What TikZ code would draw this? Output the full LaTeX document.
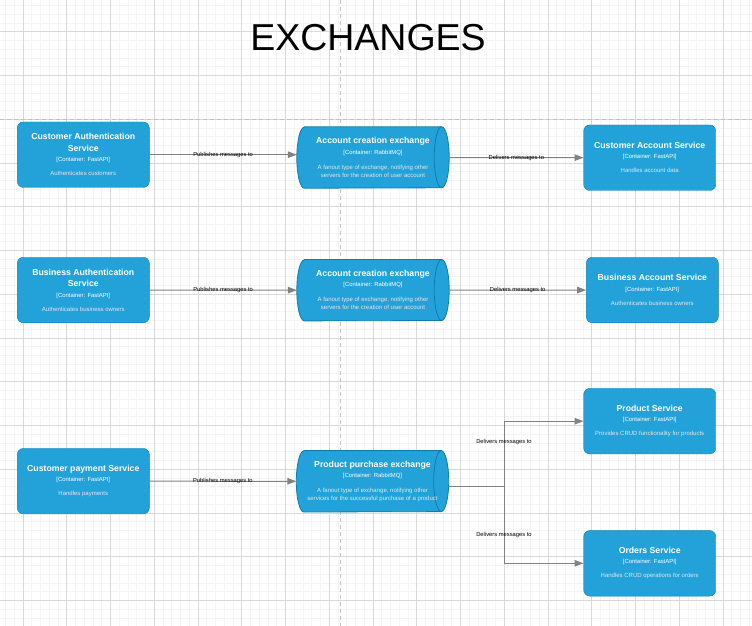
\documentclass[tikz,border=0pt]{standalone}
\usepackage{fontspec}
\setmainfont{Liberation Sans}
\usetikzlibrary{arrows.meta}

\definecolor{boxblue}{HTML}{23A2D9}
\definecolor{boxline}{HTML}{0E7DAD}
\definecolor{desctext}{HTML}{E6E6E6}
\definecolor{linkgray}{HTML}{828282}
\definecolor{majorgrid}{HTML}{D9D9D9}
\definecolor{minorgrid}{HTML}{F4F4F4}
\definecolor{pagebreak}{HTML}{C2C2C2}

\newcommand{\nametxt}[1]{{\fontsize{8.7}{11.7}\selectfont\bfseries #1}}
\newcommand{\tagtxt}[1]{{\fontsize{5.9}{7}\selectfont #1}}
\newcommand{\desctxt}[1]{{\fontsize{6}{7}\selectfont\color{desctext}#1}}

\pgfdeclarelayer{back}
\pgfsetlayers{back,main}

\tikzset{
    svcbox/.style={draw=boxline, fill=boxblue, rounded corners=6pt, text=white,
        align=center, minimum width=132pt, minimum height=65.5pt, inner sep=0pt,
        font=\fontsize{8.7}{11.7}\selectfont},
    xchgbox/.style={text=white, align=center, minimum width=152pt,
        minimum height=61pt, inner sep=0pt, font=\fontsize{8.7}{11.7}\selectfont},
    xchgbody/.style={draw=boxline, fill=boxblue, line width=0.8pt},
    link/.style={draw=linkgray, line width=1pt, -{Triangle[length=9pt, width=6.5pt]}},
    linklbl/.style={font=\fontsize{5.8}{7}\selectfont, text=black, inner sep=1pt},
}

\begin{document}
\begin{tikzpicture}[x=1pt, y=-1pt]
    \useasboundingbox (0, 0) rectangle (752, 626);
    \clip (0, 0) rectangle (752, 626);

    % grid
    \begin{pgfonlayer}{back}
        \fill[white] (0, 0) rectangle (752, 626);
        \foreach \i in {0,...,87}
            \draw[minorgrid, line width=0.6pt] ({-3.3+\i*8.75}, 0) -- ({-3.3+\i*8.75}, 626);
        \foreach \j in {0,...,72}
            \draw[minorgrid, line width=0.6pt] (0, {-3.3+\j*8.75}) -- (752, {-3.3+\j*8.75});
        \foreach \i in {0,...,17}
            \draw[majorgrid, line width=0.8pt] ({22.95+\i*43.75}, 0) -- ({22.95+\i*43.75}, 626);
        \foreach \j in {1,...,14}
            \draw[majorgrid, line width=0.8pt] (0, {-12.05+\j*43.75}) -- (752, {-12.05+\j*43.75});
        \draw[pagebreak, line width=0.8pt, dash pattern=on 4pt off 3pt] (340, 0) -- (340, 626);
        \draw[pagebreak, line width=0.8pt, dash pattern=on 4pt off 3pt] (0, 119.4) -- (752, 119.4);
    \end{pgfonlayer}

    \node[anchor=base, font=\fontsize{37.5}{45}\selectfont] (title) at (368, 50.7) {EXCHANGES};

    % services
    \node[svcbox] (custauth) at (83.3, 154.7) {\nametxt{Customer Authentication}\\ \nametxt{Service}\\[-1.4pt]
        \tagtxt{[Container: FastAPI]}\\[2.3pt] \desctxt{Authenticates customers}};
    \node[svcbox] (bizauth) at (83.3, 290) {\nametxt{Business Authentication}\\ \nametxt{Service}\\[-1.4pt]
        \tagtxt{[Container: FastAPI]}\\[2.3pt] \desctxt{Authenticates business owners}};
    \node[svcbox] (custpay) at (83.3, 481.2) {\nametxt{Customer payment Service}\\[-1.4pt]
        \tagtxt{[Container: FastAPI]}\\[2.3pt] \desctxt{Handles payments}};
    \node[svcbox] (custacct) at (649.7, 157.7) {\nametxt{Customer Account Service}\\[-1.4pt]
        \tagtxt{[Container: FastAPI]}\\[2.3pt] \desctxt{Handles account data}};
    \node[svcbox] (bizacct) at (652.3, 290) {\nametxt{Business Account Service}\\[-1.4pt]
        \tagtxt{[Container: FastAPI]}\\[2.3pt] \desctxt{Authenticates business owners}};
    \node[svcbox] (product) at (649.7, 421.2) {\nametxt{Product Service}\\[-1.4pt]
        \tagtxt{[Container: FastAPI]}\\[2.3pt] \desctxt{Provides CRUD functionality for products}};
    \node[svcbox] (orders) at (649.7, 563.3) {\nametxt{Orders Service}\\[-1.4pt]
        \tagtxt{[Container: FastAPI]}\\[2.3pt] \desctxt{Handles CRUD operations for orders}};

    % exchanges
    \node[xchgbox] (acctx) at (373, 157.5) {\nametxt{Account creation exchange}\\[-1.4pt]
        \tagtxt{[Container: RabbitMQ]}\\[3.3pt] \desctxt{A fanout type of exchange, notifying other}\\[-3.7pt]
        \desctxt{servers for the creation of user account}};
    \node[xchgbox] (bizx) at (373, 290.2) {\nametxt{Account creation exchange}\\[-1.4pt]
        \tagtxt{[Container: RabbitMQ]}\\[3.3pt] \desctxt{A fanout type of exchange, notifying other}\\[-3.7pt]
        \desctxt{servers for the creation of user account}};
    \node[xchgbox] (buyx) at (372.5, 481.3) {\nametxt{Product purchase exchange}\\[-1.4pt]
        \tagtxt{[Container: RabbitMQ]}\\[3.3pt] \desctxt{A fanout type of exchange, notifying other}\\[-3.7pt]
        \desctxt{services for the successful purchase of a product}};

    \begin{pgfonlayer}{back}
        \foreach \c in {acctx, bizx, buyx} {
            \draw[xchgbody] ([xshift=7.5pt]\c.north west) -- ([xshift=-7.5pt]\c.north east)
                arc[start angle=90, end angle=-90, x radius=7.5pt, y radius=30.5pt]
                -- ([xshift=7.5pt]\c.south west)
                arc[start angle=270, end angle=90, x radius=7.5pt, y radius=30.5pt] -- cycle;
            \draw[boxline, line width=0.8pt] ([xshift=-7.5pt]\c.north east)
                arc[start angle=90, end angle=270, x radius=7.5pt, y radius=30.5pt];
        }
    \end{pgfonlayer}

    \coordinate (fork) at (504, 486.7);

    \draw[link] (custauth) -- (custauth -| acctx.west) node[linklbl, midway] (pub1) {Publishes messages to};
    \draw[link] (acctx) -- (custacct) node[linklbl, midway] (del1) {Delivers messages to};
    \draw[link] (bizauth) -- (bizx) node[linklbl, midway] (pub2) {Publishes messages to};
    \draw[link] (bizx) -- (bizacct) node[linklbl, midway] (del2) {Delivers messages to};
    \draw[link] (custpay) -- (buyx) node[linklbl, midway] (pub3) {Publishes messages to};
    \draw[link] (buyx.east |- fork) -- (fork) |- (product) node[linklbl, pos=0.34] (del3) {Delivers messages to};
    \draw[link] (buyx.east |- fork) -- (fork) |- (orders) node[linklbl, pos=0.315] (del4) {Delivers messages to};
\end{tikzpicture}
\end{document}
